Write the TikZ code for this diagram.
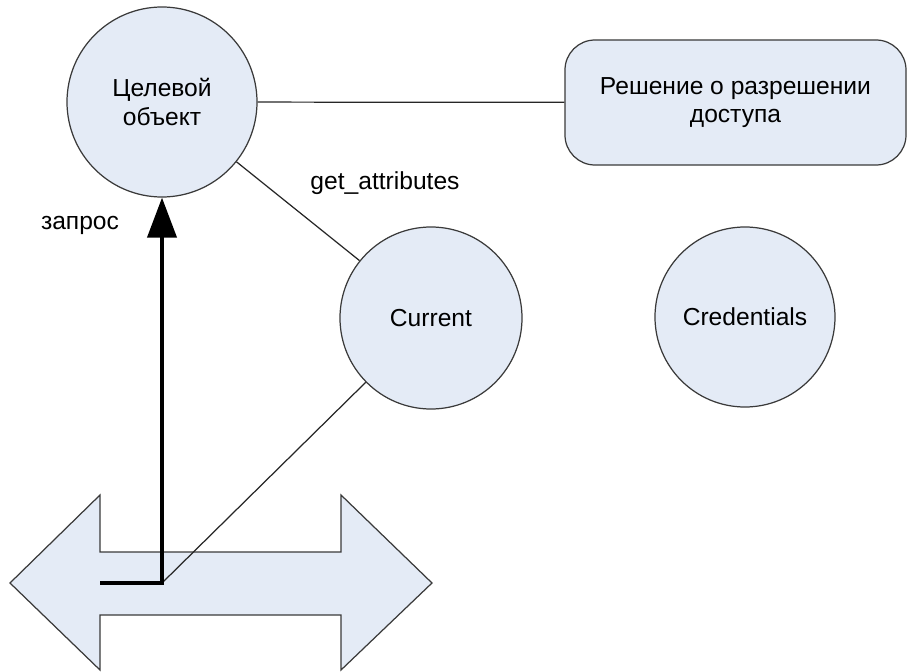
\documentclass[tikz,border=0pt]{standalone}
\usepackage{fontspec}
\setmainfont{Liberation Sans}
\usetikzlibrary{arrows.meta,positioning}
\definecolor{ShapeFill}{HTML}{E4EBF6}
\definecolor{ShapeLine}{HTML}{3A3A3A}

\begin{document}
\begin{tikzpicture}[x=0.2mm, y=-0.2mm,
    every node/.style={font=\fontsize{14}{16}\selectfont},
    ent/.style={circle, draw=ShapeLine, fill=ShapeFill, line width=0.7pt, align=center, inner sep=0pt},
    dec/.style={draw=ShapeLine, fill=ShapeFill, rounded corners=6mm, line width=0.7pt, align=center, minimum width=68.2mm, minimum height=25mm},
    link/.style={draw=black!85, line width=0.7pt},
    req/.style={-{Triangle[length=8mm, width=5.8mm]}, line width=0.8mm}
  ]
    \useasboundingbox (0,0) rectangle (910,672);

    % double arrow at the bottom
    \draw[draw=ShapeLine, fill=ShapeFill, line width=0.7pt]
      (10,583) -- (100,495) -- (100,552) -- (341,552) -- (341,495) -- (432,583)
      -- (341,670) -- (341,615) -- (100,615) -- (100,670) -- cycle;
    \coordinate (tail) at (100,583);
    \coordinate (corner) at (162,583);

    \node[ent, minimum size=38mm] (target) at (162,102) {Целевой\\объект};
    \node[ent, minimum size=36.4mm] (current) at (431,318) {Current};
    \node[ent, minimum size=36mm] (cred) at (745,317) {Credentials};
    \node[dec] (decision) at (735.5,102.5) {Решение о разрешении\\доступа};

    \node (getattr) at (385,183) {get\_attributes};
    \node (query) at (80,225) {запрос};

    \draw[link] (target) -- (decision);
    \draw[link] (target) -- (current);
    \draw[link] (corner) -- (current);
    \draw[req] (tail) -- (corner) -- (target);
  \end{tikzpicture}
\end{document}
